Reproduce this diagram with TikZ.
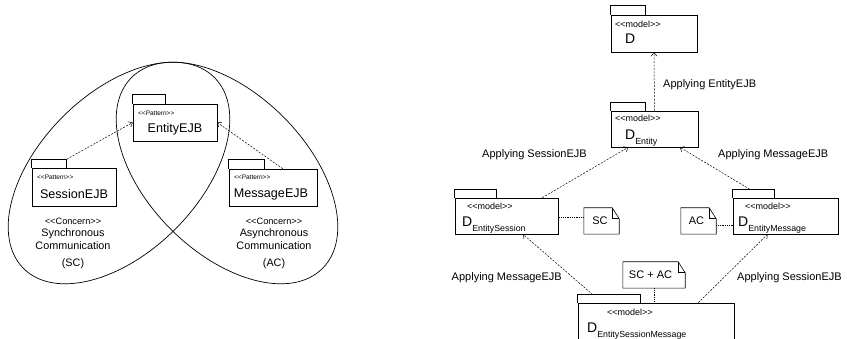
\documentclass[tikz,border=0pt]{standalone}
\usepackage{fontspec}
\setmainfont{Liberation Sans}
\usetikzlibrary{arrows.meta,calc}

% guillemet-free stereotype brackets
\newcommand\stereotype[1]{<\kern0pt<#1>\kern0pt>}

\tikzset{
  pkg/.style={draw, line width=0.55pt, inner sep=0pt},
  pkgline/.style={line width=0.5pt},
  tinystereo/.style={font=\fontsize{6.5}{7}\selectfont, inner sep=0pt, anchor=west},
  modelstereo/.style={font=\fontsize{9}{10}\selectfont, inner sep=0pt, anchor=west},
  pattname/.style={font=\fontsize{12.6}{14}\selectfont, inner sep=0pt},
  concern/.style={font=\fontsize{10.8}{13}\selectfont, inner sep=0pt, align=center},
  concernst/.style={font=\fontsize{9.2}{11}\selectfont, inner sep=0pt},
  modelname/.style={inner sep=0pt, anchor=base west},
  deplabel/.style={font=\fontsize{11}{13}\selectfont, inner sep=0pt},
  notebox/.style={font=\fontsize{11}{13}\selectfont, inner sep=0pt, minimum height=26pt},
  dep/.style={line width=0.5pt, dash pattern=on 2pt off 1.4pt,
              -{Straight Barb[length=3.5pt,width=6pt]}},
  anchorline/.style={line width=0.6pt, dash pattern=on 1pt off 0.8pt},
  concernset/.style={line width=0.7pt},
}

\newcommand\bigD[1]{{\fontsize{14}{16}\selectfont D}\raisebox{-5pt}{\fontsize{8.8}{10}\selectfont #1}}
% package tab: #1 body node, #2 tab name, #3 width, #4 height
\newcommand\pkgtab[4]{%
  \draw[pkgline] (#1.north west) -- ++(0,#4) -- ++(#3,0) coordinate (#2) -- ++(0,-#4);}
\newcommand\drawnote[1]{%
  \draw[line width=0.6pt] (#1.north west) -- ([xshift=-7pt]#1.north east)
    -- ([yshift=-11pt]#1.north east) -- (#1.south east) -- (#1.south west) -- cycle;
  \draw[line width=0.6pt] ([xshift=-7pt]#1.north east)
    -- ([xshift=-7pt,yshift=-11pt]#1.north east) -- ([yshift=-11pt]#1.north east);}

\begin{document}
\begin{tikzpicture}[x=1pt, y=1pt]
\useasboundingbox (0,0) rectangle (847,-339);

% ---------------- concern sets ----------------
\begin{scope}[shift={(119,-173)}, rotate=45]
  \draw[concernset] (0,0) ellipse [x radius=135pt, y radius=79.5pt];
\end{scope}
\begin{scope}[shift={(227,-173)}, rotate=-45]
  \draw[concernset] (0,0) ellipse [x radius=135pt, y radius=79.5pt];
\end{scope}

% ---------------- patterns ----------------
\node[pkg, minimum width=84pt, minimum height=37pt] (entity) at (175,-122.5) {};
\pkgtab{entity}{entitytab}{33}{9}
\node[tinystereo] (entityst) at (138,-113) {\stereotype{Pattern}};
\node[pattname] (entityname) at (175,-129) {EntityEJB};

\node[pkg, minimum width=84pt, minimum height=38pt] (session) at (74,-187) {};
\pkgtab{session}{sessiontab}{35}{8.5}
\node[tinystereo] (sessionst) at (37,-177) {\stereotype{Pattern}};
\node[pattname] (sessionname) at (74,-194) {SessionEJB};

\node[pkg, minimum width=88pt, minimum height=37pt] (message) at (273,-187.5) {};
\pkgtab{message}{messagetab}{36}{9}
\node[tinystereo] (messagest) at (234,-177) {\stereotype{Pattern}};
\node[pattname] (messagename) at (271,-194) {MessageEJB};

\node[concernst] (scst) at (73,-221) {\stereotype{Concern}};
\node[concern] (sctext) at (73,-239.5) {Synchronous\\Communication};
\node[concern] (scabbr) at (73,-264) {(SC)};

\node[concernst] (acst) at (274,-221) {\stereotype{Concern}};
\node[concern] (actext) at (274,-239.5) {Asynchronous\\Communication};
\node[concern] (acabbr) at (274,-264) {(AC)};

\draw[dep] (sessiontab) -- (entity.west);
\draw[dep] ($(message.north west)!0.61!(message.north east)$) -- (entity.east);

% ---------------- models ----------------
\node[pkg, minimum width=86pt, minimum height=37pt] (d) at (654,-33.5) {};
\pkgtab{d}{dtab}{35}{9.5}
\node[modelstereo] (dst) at (615,-24) {\stereotype{model}};
\node[modelname] (dname) at (625,-44) {{\fontsize{14}{16}\selectfont D}};

\node[pkg, minimum width=87pt, minimum height=36pt] (dent) at (654.5,-129) {};
\pkgtab{dent}{denttab}{35}{8.5}
\node[modelstereo] (dentst) at (615,-118) {\stereotype{model}};
\node[modelname] (dentname) at (625,-140) {\bigD{Entity}};

\node[pkg, minimum width=103pt, minimum height=36pt] (dsess) at (506.5,-216) {};
\pkgtab{dsess}{dsesstab}{42}{8.5}
\node[modelstereo] (dsessst) at (467,-206) {\stereotype{model}};
\node[modelname] (dsessname) at (462,-227) {\bigD{EntitySession}};

\node[pkg, minimum width=105pt, minimum height=36pt] (dmsg) at (785.5,-216) {};
\pkgtab{dmsg}{dmsgtab}{42}{8.5}
\node[modelstereo] (dmsgst) at (745,-206) {\stereotype{model}};
\node[modelname] (dmsgname) at (738,-227) {\bigD{EntityMessage}};

\node[pkg, minimum width=156pt, minimum height=44pt] (desm) at (656,-325) {};
\pkgtab{desm}{desmtab}{63}{8}
\node[modelstereo] (desmst) at (607,-312) {\stereotype{model}};
\node[modelname] (desmname) at (587,-333) {\bigD{EntitySessionMessage}};

% ---------------- notes ----------------
\node[notebox, minimum width=35pt] (sc) at (601.5,-221) {\hspace*{-3pt}SC};
\drawnote{sc}
\node[notebox, minimum width=35pt] (ac) at (698.5,-221) {\hspace*{-4pt}AC};
\drawnote{ac}
\node[notebox, minimum width=62pt] (scac) at (654,-275) {\hspace*{-7pt}SC + AC};
\drawnote{scac}

\draw[anchorline] ([yshift=4pt]sc.west) -- ([yshift=4pt]sc.west -| dsess.east);
\draw[anchorline] ([yshift=-4pt]ac.east) -- ([yshift=-4pt]ac.east -| dmsg.west);
\draw[anchorline] (scac.south) -- (scac.south |- desm.north);

% ---------------- refinements ----------------
\draw[dep] (dent.north) -- (d.south);
\draw[dep] ($(dsess.north west)!0.845!(dsess.north east)$) -- ($(dent.south west)!0.2!(dent.south east)$);
\draw[dep] ($(dmsg.north west)!0.16!(dmsg.north east)+(0,8.5)$) -- ($(dent.south west)!0.79!(dent.south east)$);
\draw[dep] ($(desm.north west)!0.096!(desm.north east)+(0,8)$) -- ($(dsess.south west)!0.66!(dsess.south east)$);
\draw[dep] ($(desm.north west)!0.77!(desm.north east)$) -- ($(dmsg.south west)!0.33!(dmsg.south east)$);

\node[deplabel, anchor=west] (lentity) at (663,-85) {Applying EntityEJB};
\node[deplabel, anchor=east] (lsess1) at (587,-155) {Applying SessionEJB};
\node[deplabel, anchor=west] (lmsg1) at (718,-155) {Applying MessageEJB};
\node[deplabel, anchor=east] (lmsg2) at (562,-278) {Applying MessageEJB};
\node[deplabel, anchor=west] (lsess2) at (737,-278) {Applying SessionEJB};
\end{tikzpicture}
\end{document}
